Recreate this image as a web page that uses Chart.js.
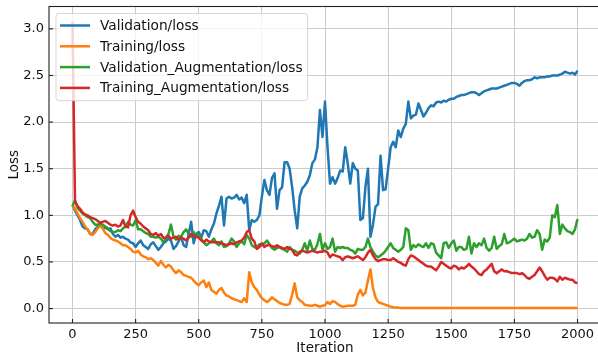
<!DOCTYPE html>
<html>
<head>
<meta charset="utf-8">
<script src="https://cdn.jsdelivr.net/npm/chart.js@4.4.1/dist/chart.umd.min.js"></script>
<style>
html, body { margin: 0; padding: 0; overflow: hidden; background: #fff; }
</style>
</head>
<body>
<canvas id="myChart" width="604" height="356"></canvas>
<script>
// iterations logged every 10 steps
const iterations = [
	0, 10, 20, 30, 40, 50, 60, 70, 80, 90,
	100, 110, 120, 130, 140, 150, 160, 170, 180, 190,
	200, 210, 220, 230, 240, 250, 260, 270, 280, 290,
	300, 310, 320, 330, 340, 350, 360, 370, 380, 390,
	400, 410, 420, 430, 440, 450, 460, 470, 480, 490,
	500, 510, 520, 530, 540, 550, 560, 570, 580, 590,
	600, 610, 620, 630, 640, 650, 660, 670, 680, 690,
	700, 710, 720, 730, 740, 750, 760, 770, 780, 790,
	800, 810, 820, 830, 840, 850, 860, 870, 880, 890,
	900, 910, 920, 930, 940, 950, 960, 970, 980, 990,
	1000, 1010, 1020, 1030, 1040, 1050, 1060, 1070, 1080, 1090,
	1100, 1110, 1120, 1130, 1140, 1150, 1160, 1170, 1180, 1190,
	1200, 1210, 1220, 1230, 1240, 1250, 1260, 1270, 1280, 1290,
	1300, 1310, 1320, 1330, 1340, 1350, 1360, 1370, 1380, 1390,
	1400, 1410, 1420, 1430, 1440, 1450, 1460, 1470, 1480, 1490,
	1500, 1510, 1520, 1530, 1540, 1550, 1560, 1570, 1580, 1590,
	1600, 1610, 1620, 1630, 1640, 1650, 1660, 1670, 1680, 1690,
	1700, 1710, 1720, 1730, 1740, 1750, 1760, 1770, 1780, 1790,
	1800, 1810, 1820, 1830, 1840, 1850, 1860, 1870, 1880, 1890,
	1900, 1910, 1920, 1930, 1940, 1950, 1960, 1970, 1980, 1990,
	2000
];

const validationLoss = [
	1.11, 1.05, 1.00, 0.95, 0.88, 0.86, 0.85, 0.80, 0.80, 0.85,
	0.88, 0.90, 0.86, 0.87, 0.85, 0.86, 0.80, 0.77, 0.79, 0.76,
	0.77, 0.75, 0.74, 0.71, 0.70, 0.66, 0.70, 0.73, 0.68, 0.66,
	0.64, 0.69, 0.71, 0.67, 0.63, 0.66, 0.70, 0.72, 0.75, 0.73,
	0.64, 0.67, 0.72, 0.77, 0.68, 0.66, 0.80, 0.93, 0.70, 0.80,
	0.82, 0.76, 0.84, 0.83, 0.77, 0.85, 0.91, 1.02, 1.10, 1.20,
	0.89, 1.18, 1.20, 1.18, 1.19, 1.22, 1.17, 1.19, 1.13, 1.22,
	0.84, 0.95, 0.93, 0.95, 1.00, 1.20, 1.38, 1.27, 1.22, 1.40,
	1.45, 1.07, 1.27, 1.30, 1.57, 1.57, 1.50, 1.30, 1.05, 0.86,
	1.20, 1.29, 1.32, 1.36, 1.43, 1.56, 1.60, 1.73, 2.13, 1.84,
	2.22, 1.73, 1.34, 1.41, 1.34, 1.40, 1.48, 1.47, 1.73, 1.56,
	1.34, 1.56, 1.50, 1.48, 0.95, 0.97, 1.30, 1.50, 0.77, 0.90,
	1.09, 1.12, 1.64, 1.27, 1.28, 1.50, 1.73, 1.79, 1.73, 1.91,
	1.84, 1.93, 1.98, 2.22, 2.04, 2.07, 2.08, 2.20, 2.13, 2.06,
	2.10, 2.15, 2.18, 2.17, 2.21, 2.22, 2.21, 2.23, 2.22, 2.24,
	2.25, 2.25, 2.27, 2.28, 2.29, 2.29, 2.30, 2.31, 2.32, 2.32,
	2.31, 2.29, 2.31, 2.33, 2.34, 2.35, 2.36, 2.36, 2.36, 2.37,
	2.38, 2.39, 2.40, 2.41, 2.42, 2.42, 2.41, 2.39, 2.42, 2.44,
	2.45, 2.45, 2.46, 2.48, 2.47, 2.48, 2.48, 2.48, 2.49, 2.49,
	2.50, 2.50, 2.50, 2.51, 2.52, 2.54, 2.53, 2.52, 2.53, 2.51,
	2.55
];

const trainingLoss = [
	1.11, 1.07, 1.02, 0.97, 0.93, 0.88, 0.85, 0.80, 0.79, 0.82,
	0.86, 0.89, 0.86, 0.81, 0.79, 0.76, 0.74, 0.73, 0.72, 0.70,
	0.68, 0.68, 0.66, 0.64, 0.61, 0.60, 0.62, 0.58, 0.56, 0.55,
	0.53, 0.54, 0.52, 0.49, 0.46, 0.51, 0.47, 0.44, 0.47, 0.45,
	0.41, 0.38, 0.41, 0.39, 0.36, 0.35, 0.34, 0.33, 0.30, 0.27,
	0.25, 0.28, 0.30, 0.23, 0.28, 0.20, 0.18, 0.16, 0.20, 0.22,
	0.17, 0.14, 0.13, 0.11, 0.10, 0.09, 0.08, 0.07, 0.11, 0.07,
	0.39, 0.28, 0.23, 0.20, 0.15, 0.11, 0.09, 0.07, 0.09, 0.12,
	0.10, 0.08, 0.06, 0.05, 0.04, 0.04, 0.05, 0.15, 0.27, 0.12,
	0.09, 0.07, 0.04, 0.035, 0.03, 0.03, 0.04, 0.03, 0.02, 0.03,
	0.035, 0.07, 0.05, 0.08, 0.07, 0.05, 0.03, 0.02, 0.025, 0.03,
	0.03, 0.03, 0.04, 0.15, 0.20, 0.14, 0.17, 0.30, 0.42, 0.22,
	0.12, 0.07, 0.06, 0.05, 0.04, 0.03, 0.02, 0.015, 0.01, 0.01,
	0.005, 0.005, 0.005, 0.005, 0.005, 0.005, 0.005, 0.005, 0.005, 0.005,
	0.005, 0.005, 0.005, 0.005, 0.005, 0.005, 0.005, 0.005, 0.005, 0.005,
	0.005, 0.005, 0.005, 0.005, 0.005, 0.005, 0.005, 0.005, 0.005, 0.005,
	0.005, 0.005, 0.005, 0.005, 0.005, 0.005, 0.005, 0.005, 0.005, 0.005,
	0.005, 0.005, 0.005, 0.005, 0.005, 0.005, 0.005, 0.005, 0.005, 0.005,
	0.005, 0.005, 0.005, 0.005, 0.005, 0.005, 0.005, 0.005, 0.005, 0.005,
	0.005, 0.005, 0.005, 0.005, 0.005, 0.005, 0.005, 0.005, 0.005, 0.005,
	0.005
];

const validationAugLoss = [
	1.10, 1.16, 1.08, 1.05, 1.02, 1.00, 0.98, 0.97, 0.93, 0.90,
	0.90, 0.91, 0.90, 0.88, 0.86, 0.83, 0.82, 0.82, 0.84, 0.83,
	0.86, 0.88, 0.93, 0.90, 0.89, 0.95, 0.85, 0.85, 0.83, 0.81,
	0.80, 0.77, 0.77, 0.76, 0.77, 0.75, 0.71, 0.76, 0.80, 0.90,
	0.77, 0.74, 0.78, 0.77, 0.82, 0.85, 0.80, 0.77, 0.82, 0.78,
	0.79, 0.75, 0.71, 0.68, 0.70, 0.72, 0.75, 0.70, 0.68, 0.72,
	0.66, 0.67, 0.70, 0.75, 0.72, 0.66, 0.70, 0.72, 0.69, 0.79,
	0.75, 0.68, 0.66, 0.65, 0.69, 0.68, 0.70, 0.73, 0.69, 0.65,
	0.63, 0.65, 0.66, 0.64, 0.63, 0.61, 0.66, 0.63, 0.62, 0.60,
	0.59, 0.63, 0.70, 0.62, 0.73, 0.64, 0.63, 0.69, 0.80, 0.63,
	0.70, 0.64, 0.66, 0.75, 0.61, 0.66, 0.65, 0.66, 0.65, 0.65,
	0.63, 0.62, 0.59, 0.64, 0.63, 0.63, 0.66, 0.75, 0.66, 0.61,
	0.57, 0.55, 0.57, 0.59, 0.62, 0.66, 0.70, 0.65, 0.63, 0.61,
	0.63, 0.66, 0.86, 0.84, 0.63, 0.68, 0.66, 0.69, 0.67, 0.66,
	0.70, 0.65, 0.70, 0.69, 0.60, 0.57, 0.54, 0.70, 0.71, 0.65,
	0.70, 0.73, 0.62, 0.66, 0.66, 0.63, 0.64, 0.77, 0.59, 0.70,
	0.66, 0.70, 0.68, 0.75, 0.65, 0.62, 0.65, 0.77, 0.64, 0.67,
	0.69, 0.80, 0.70, 0.71, 0.73, 0.75, 0.72, 0.73, 0.74, 0.73,
	0.75, 0.80, 0.76, 0.77, 0.84, 0.80, 0.63, 0.74, 0.72, 0.76,
	1.00, 0.98, 1.11, 0.80, 0.90, 0.86, 0.83, 0.82, 0.80, 0.85,
	0.96
];

const trainingAugLoss = [
	3.08, 1.15, 1.10, 1.07, 1.03, 1.01, 1.00, 0.98, 0.97, 0.96,
	0.94, 0.92, 0.93, 0.94, 0.92, 0.90, 0.89, 0.90, 0.88, 0.89,
	0.95, 0.88, 0.87, 1.00, 1.05, 0.98, 0.93, 0.91, 0.88, 0.86,
	0.84, 0.80, 0.79, 0.81, 0.78, 0.80, 0.76, 0.76, 0.78, 0.75,
	0.76, 0.77, 0.74, 0.76, 0.75, 0.73, 0.76, 0.80, 0.78, 0.77,
	0.76, 0.73, 0.71, 0.74, 0.72, 0.71, 0.71, 0.71, 0.71, 0.70,
	0.69, 0.68, 0.69, 0.70, 0.69, 0.71, 0.72, 0.73, 0.76, 0.82,
	0.84, 0.75, 0.72, 0.64, 0.66, 0.70, 0.66, 0.68, 0.68, 0.67,
	0.66, 0.68, 0.66, 0.65, 0.64, 0.66, 0.64, 0.63, 0.58, 0.57,
	0.61, 0.62, 0.61, 0.60, 0.61, 0.62, 0.61, 0.60, 0.61, 0.61,
	0.62, 0.60, 0.55, 0.58, 0.57, 0.56, 0.55, 0.52, 0.55, 0.56,
	0.55, 0.54, 0.55, 0.56, 0.54, 0.52, 0.55, 0.60, 0.63, 0.57,
	0.53, 0.51, 0.52, 0.53, 0.53, 0.52, 0.52, 0.54, 0.52, 0.50,
	0.49, 0.47, 0.46, 0.53, 0.57, 0.56, 0.54, 0.52, 0.50, 0.48,
	0.46, 0.45, 0.45, 0.43, 0.41, 0.45, 0.50, 0.48, 0.46, 0.44,
	0.43, 0.46, 0.45, 0.42, 0.44, 0.43, 0.45, 0.48, 0.45, 0.43,
	0.40, 0.37, 0.36, 0.40, 0.42, 0.45, 0.48, 0.40, 0.38, 0.40,
	0.42, 0.40, 0.40, 0.39, 0.38, 0.38, 0.38, 0.37, 0.38, 0.36,
	0.33, 0.32, 0.34, 0.36, 0.40, 0.44, 0.40, 0.35, 0.31, 0.33,
	0.33, 0.32, 0.29, 0.34, 0.31, 0.33, 0.32, 0.31, 0.31, 0.28,
	0.275
];

const seriesNames = ['Validation/loss', 'Training/loss', 'Validation_Augmentation/loss', 'Training_Augmentation/loss'];
const seriesColors = ['#1f77b4', '#ff7f0e', '#2ca02c', '#d62728'];
const xTicks = [0, 250, 500, 750, 1000, 1250, 1500, 1750, 2000];
const yTicks = [0.0, 0.5, 1.0, 1.5, 2.0, 2.5, 3.0];

const FONT = 'DejaVu Sans';

function points(values) {
	return iterations.map((it, i) => ({ x: it, y: values[i] }));
}

// box around the axes + inward tick marks
const frame = {
	id: 'frame',
	afterDatasetsDraw(chart) {
		const { ctx, chartArea: a, scales } = chart;
		ctx.save();
		ctx.strokeStyle = '#222';
		ctx.lineWidth = 1.1;
		xTicks.forEach((v) => {
			const px = scales.x.getPixelForValue(v);
			ctx.beginPath();
			ctx.moveTo(px, a.bottom);
			ctx.lineTo(px, a.bottom - 4);
			ctx.stroke();
		});
		yTicks.forEach((v) => {
			const py = scales.y.getPixelForValue(v);
			ctx.beginPath();
			ctx.moveTo(a.left, py);
			ctx.lineTo(a.left + 4, py);
			ctx.stroke();
		});
		ctx.strokeRect(a.left, a.top, a.right - a.left, a.bottom - a.top);
		ctx.restore();
	}
};

// matplotlib style legend, upper left inside the axes
const boxLegend = {
	id: 'boxLegend',
	afterDraw(chart) {
		const { ctx, chartArea: a } = chart;
		const x0 = a.left + 7, y0 = a.top + 7;
		const rowH = 20.8;
		ctx.save();
		ctx.font = '13.7px "' + FONT + '"';
		let w = 0;
		chart.data.datasets.forEach((ds) => { w = Math.max(w, ctx.measureText(ds.label).width); });
		const boxW = 44 + w + 5, boxH = rowH * chart.data.datasets.length + 4;
		ctx.beginPath();
		ctx.roundRect(x0, y0, boxW, boxH, 3);
		ctx.fillStyle = 'rgba(255,255,255,0.8)';
		ctx.fill();
		ctx.strokeStyle = 'rgba(204,204,204,0.8)';
		ctx.lineWidth = 1;
		ctx.stroke();
		ctx.textBaseline = 'middle';
		chart.data.datasets.forEach((ds, i) => {
			const cy = y0 + 12 + i * rowH;
			ctx.strokeStyle = ds.borderColor;
			ctx.lineWidth = 2.5;
			ctx.beginPath();
			ctx.moveTo(x0 + 4, cy);
			ctx.lineTo(x0 + 34, cy);
			ctx.stroke();
			ctx.fillStyle = '#111';
			ctx.fillText(ds.label, x0 + 44, cy + 1);
		});
		ctx.restore();
	}
};

const ctx = document.getElementById('myChart').getContext('2d');

const myChart = new Chart(ctx, {
	type: 'line',
	data: {
		datasets: [
			{ label: seriesNames[0], data: points(validationLoss), borderColor: seriesColors[0], order: 4 },
			{ label: seriesNames[1], data: points(trainingLoss), borderColor: seriesColors[1], order: 3 },
			{ label: seriesNames[2], data: points(validationAugLoss), borderColor: seriesColors[2], order: 2 },
			{ label: seriesNames[3], data: points(trainingAugLoss), borderColor: seriesColors[3], order: 1 }
		]
	},
	options: {
		responsive: false,
		animation: false,
		layout: { padding: { top: 6.5, right: 3, left: 0, bottom: 0 } },
		elements: {
			point: { radius: 0 },
			line: { borderWidth: 2.5, tension: 0, borderJoinStyle: 'round', fill: false }
		},
		plugins: {
			legend: { display: false },
			tooltip: { enabled: false }
		},
		scales: {
			x: {
				type: 'linear',
				min: -93,
				max: 2093,
				afterBuildTicks: (s) => { s.ticks = xTicks.map((v) => ({ value: v })); },
				afterFit: (s) => { s.height = 33; s.paddingLeft = 0; s.paddingRight = 0; },
				grid: { color: '#cbcbcb', lineWidth: 1, drawTicks: false },
				border: { display: false },
				ticks: {
					padding: 4,
					color: '#111',
					maxRotation: 0,
					font: { family: FONT, size: 13 },
					callback: (v) => String(v)
				},
				title: {
					display: true,
					text: 'Iteration',
					color: '#111',
					font: { family: FONT, size: 13.5, lineHeight: 1 },
					padding: { top: 0, bottom: 0.5 }
				}
			},
			y: {
				min: -0.155,
				max: 3.24,
				afterBuildTicks: (s) => { s.ticks = yTicks.map((v) => ({ value: v })); },
				afterFit: (s) => { s.width = 49; s.paddingTop = 0; s.paddingBottom = 0; },
				grid: { color: '#cbcbcb', lineWidth: 1, drawTicks: false },
				border: { display: false },
				ticks: {
					padding: 5,
					color: '#111',
					font: { family: FONT, size: 13 },
					callback: (v) => v.toFixed(1)
				},
				title: {
					display: true,
					text: 'Loss',
					color: '#111',
					font: { family: FONT, size: 13.5, lineHeight: 1 },
					padding: { top: 8, bottom: 0 }
				}
			}
		}
	},
	plugins: [frame, boxLegend]
});
</script>
</body>
</html>
